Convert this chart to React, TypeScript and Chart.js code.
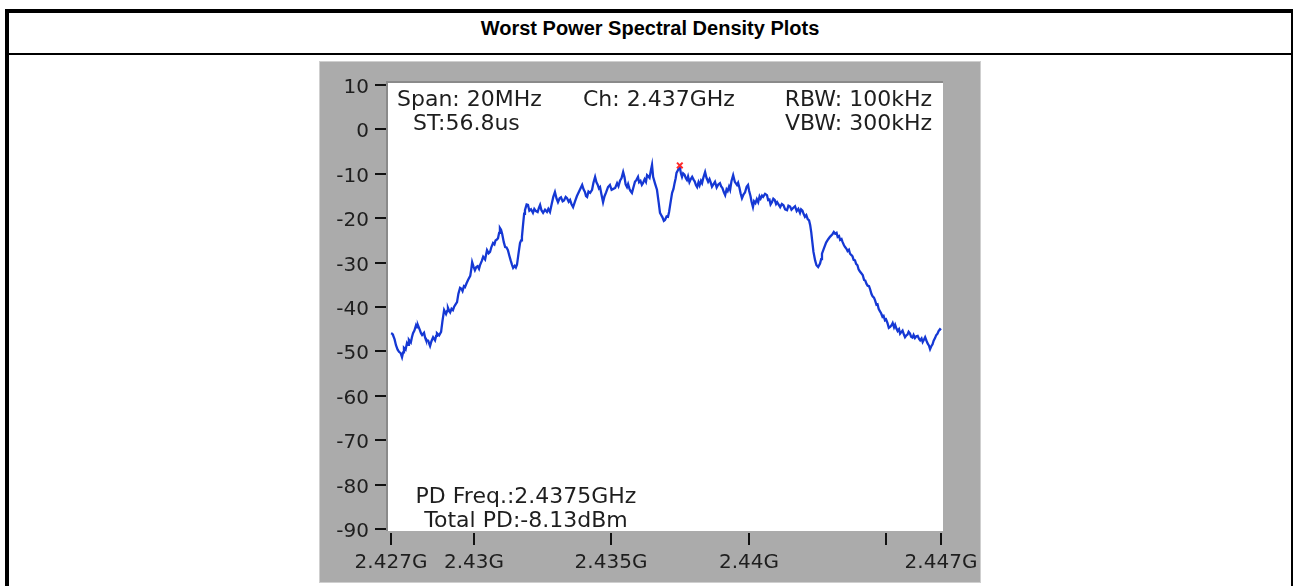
import React, { useEffect, useRef } from "react";
import { Chart, registerables } from "chart.js";

Chart.register(...registerables);

const titleText = "Worst Power Spectral Density Plots";

// Lower-left skirt and rising edge (MHz / dBm)
const leftFreqMHz = [
  2427.0, 2427.04, 2427.07, 2427.13, 2427.18, 2427.24, 2427.29, 2427.35, 2427.4, 2427.44,
  2427.47, 2427.53, 2427.58, 2427.62, 2427.65, 2427.72, 2427.76, 2427.8, 2427.85, 2427.91,
  2427.95, 2427.98, 2428.05, 2428.09, 2428.13, 2428.2, 2428.24, 2428.27, 2428.35, 2428.42,
  2428.47, 2428.53, 2428.6, 2428.64, 2428.67, 2428.75, 2428.82, 2428.87, 2428.93, 2429.0,
  2429.04, 2429.07, 2429.11, 2429.15, 2429.2, 2429.25, 2429.29, 2429.33, 2429.4, 2429.45,
  2429.51, 2429.56, 2429.6, 2429.65, 2429.69, 2429.75, 2429.8, 2429.88, 2429.92, 2429.95,
  2430.0, 2430.05, 2430.1, 2430.15, 2430.2, 2430.24, 2430.3, 2430.35, 2430.42, 2430.49,
  2430.55, 2430.6, 2430.65, 2430.71, 2430.76, 2430.8, 2430.85, 2430.89, 2430.93, 2430.96,
  2431.0, 2431.04, 2431.1, 2431.15, 2431.2, 2431.25, 2431.3, 2431.35, 2431.4, 2431.44,
  2431.5, 2431.54, 2431.58, 2431.63, 2431.69, 2431.73, 2431.76, 2431.8, 2431.84,
];
const leftPsdDbm = [
  -45.9, -46.0, -46.3, -47.3, -48.6, -49.6, -50.1, -50.4, -51.3, -50.2,
  -49.2, -49.6, -48.1, -48.5, -47.4, -48.0, -46.8, -45.9, -45.3, -44.1,
  -44.6, -44.1, -45.2, -45.9, -46.3, -45.8, -46.9, -47.4, -47.6, -48.8,
  -47.7, -46.8, -47.5, -46.5, -45.9, -46.4, -45.6, -43.2, -40.7, -41.6,
  -40.9, -40.2, -40.8, -41.2, -40.4, -40.7, -40.0, -39.6, -38.9, -37.0,
  -35.7, -35.9, -36.4, -35.3, -35.5, -34.6, -33.9, -33.0, -31.4, -29.9,
  -30.9, -31.7, -31.0, -30.8, -31.4, -30.5, -29.6, -28.7, -29.3, -27.2,
  -27.9, -27.6, -26.5, -25.6, -25.9, -25.0, -24.8, -24.5, -23.3, -22.2,
  -22.6, -23.5, -25.4, -26.5, -26.6, -27.2, -28.4, -29.5, -30.5, -31.2,
  -30.7, -31.1, -30.5, -28.2, -25.6, -25.0, -24.2, -21.5, -19.0,
];

// Top of the spectrum
const topFreqMHz = [
  2431.87, 2431.93, 2431.98, 2432.03, 2432.09, 2432.16, 2432.21, 2432.27, 2432.33, 2432.38,
  2432.42, 2432.47, 2432.53, 2432.6, 2432.67, 2432.72, 2432.78, 2432.85, 2432.9, 2432.96,
  2433.02, 2433.07, 2433.13, 2433.18, 2433.24, 2433.29, 2433.35, 2433.4, 2433.46, 2433.51,
  2433.56, 2433.62, 2433.69, 2433.76, 2433.85, 2433.95, 2434.0, 2434.05, 2434.09, 2434.13,
  2434.18, 2434.24, 2434.31, 2434.36, 2434.42, 2434.47, 2434.51, 2434.56, 2434.6, 2434.65,
  2434.71, 2434.76, 2434.82, 2434.89, 2434.96, 2435.02, 2435.08, 2435.15, 2435.22, 2435.27,
  2435.33, 2435.38, 2435.44, 2435.49, 2435.53, 2435.58, 2435.62, 2435.67, 2435.71, 2435.76,
  2435.82, 2435.87, 2435.93, 2435.98, 2436.02, 2436.07, 2436.12, 2436.16, 2436.22, 2436.27,
  2436.31, 2436.36, 2436.4, 2436.45, 2436.49, 2436.53, 2436.6, 2436.67, 2436.73, 2436.78,
  2436.84, 2436.87, 2436.92, 2436.96, 2437.02, 2437.07, 2437.11, 2437.15, 2437.22, 2437.27,
  2437.31, 2437.35, 2437.38, 2437.44, 2437.5, 2437.54, 2437.58, 2437.62, 2437.67, 2437.72,
  2437.76, 2437.8, 2437.85, 2437.9, 2437.95, 2438.0, 2438.04, 2438.09, 2438.13, 2438.18,
  2438.22, 2438.27, 2438.31, 2438.36, 2438.42, 2438.47, 2438.53, 2438.58, 2438.62, 2438.67,
  2438.71, 2438.78, 2438.84, 2438.9, 2438.96, 2439.0, 2439.05, 2439.1, 2439.15, 2439.2,
  2439.24, 2439.29, 2439.33, 2439.38, 2439.44, 2439.5, 2439.58, 2439.62, 2439.67, 2439.71,
  2439.76, 2439.82, 2439.87, 2439.93, 2439.98, 2440.02, 2440.07, 2440.11, 2440.16, 2440.2,
  2440.25, 2440.3, 2440.35, 2440.4, 2440.44, 2440.49, 2440.53, 2440.6, 2440.67, 2440.71,
  2440.76, 2440.8, 2440.85, 2440.9, 2440.95, 2441.0, 2441.04, 2441.09, 2441.15, 2441.21,
  2441.27, 2441.33, 2441.4, 2441.45, 2441.51, 2441.56, 2441.62, 2441.69, 2441.75, 2441.81,
  2441.87, 2441.91, 2441.96, 2442.0, 2442.05, 2442.1, 2442.15, 2442.2, 2442.24,
];
const topPsdDbm = [
  -18.2, -16.9, -17.0, -18.3, -18.0, -18.8, -17.9, -18.4, -18.6, -17.6,
  -17.0, -18.2, -18.8, -18.1, -18.6, -17.9, -18.6, -16.6, -15.2, -14.1,
  -15.6, -16.4, -15.5, -15.3, -16.2, -16.0, -15.2, -15.5, -16.3, -15.9,
  -16.8, -17.5, -16.2, -15.0, -13.8, -12.5, -13.5, -14.1, -15.0, -15.2,
  -14.0, -14.3, -13.6, -12.0, -10.7, -11.9, -12.4, -13.3, -13.0, -14.6,
  -16.4, -15.1, -14.2, -13.0, -12.5, -13.6, -13.4, -13.2, -12.1, -12.8,
  -11.5, -11.0, -9.6, -10.8, -12.4, -13.0, -12.3, -13.4, -13.9, -14.3,
  -12.9, -11.8, -11.3, -10.7, -11.9, -11.6, -12.5, -12.1, -11.2, -11.8,
  -10.3, -10.6, -10.9, -9.2, -8.0, -10.7, -12.2, -13.6, -16.4, -18.8,
  -19.5, -19.8, -20.6, -20.4, -19.6, -19.7, -18.6, -17.0, -14.3, -13.4,
  -12.1, -11.0, -9.8, -9.1, -8.4, -9.9, -10.7, -9.9, -10.2, -11.0,
  -11.4, -10.6, -11.9, -11.2, -10.7, -11.3, -11.7, -12.6, -13.0, -11.9,
  -12.6, -11.6, -12.1, -10.8, -9.6, -10.9, -11.8, -11.2, -11.9, -12.9,
  -12.5, -11.8, -13.1, -12.4, -12.1, -12.8, -13.2, -14.1, -14.8, -13.5,
  -13.9, -12.9, -13.6, -11.6, -10.3, -11.8, -12.5, -12.0, -13.2, -14.4,
  -15.5, -14.6, -14.2, -12.9, -12.5, -13.8, -15.0, -16.3, -17.5, -16.2,
  -16.6, -15.7, -16.4, -15.1, -15.6, -14.9, -15.2, -14.5, -14.8, -15.9,
  -15.8, -16.9, -16.4, -15.6, -15.9, -16.8, -16.4, -16.9, -17.5, -16.8,
  -17.1, -18.0, -18.2, -17.2, -17.4, -18.1, -17.7, -17.3, -18.4, -17.9,
  -18.8, -18.0, -18.3, -19.0, -19.7, -19.3, -20.2, -20.5, -21.5,
];

// Falling edge and upper-right skirt
const rightFreqMHz = [
  2442.28, 2442.31, 2442.36, 2442.42, 2442.47, 2442.53, 2442.6, 2442.64, 2442.67, 2442.74,
  2442.82, 2442.89, 2442.96, 2443.05, 2443.1, 2443.15, 2443.2, 2443.24, 2443.29, 2443.33,
  2443.38, 2443.42, 2443.47, 2443.51, 2443.56, 2443.6, 2443.65, 2443.69, 2443.74, 2443.78,
  2443.82, 2443.87, 2443.91, 2443.96, 2444.0, 2444.05, 2444.1, 2444.15, 2444.2, 2444.24,
  2444.29, 2444.33, 2444.38, 2444.42, 2444.47, 2444.51, 2444.56, 2444.6, 2444.65, 2444.69,
  2444.73, 2444.78, 2444.82, 2444.87, 2444.91, 2444.96, 2445.0, 2445.05, 2445.1, 2445.15,
  2445.2, 2445.24, 2445.29, 2445.33, 2445.38, 2445.42, 2445.47, 2445.51, 2445.56, 2445.6,
  2445.65, 2445.69, 2445.74, 2445.78, 2445.82, 2445.87, 2445.91, 2445.96, 2446.0, 2446.05,
  2446.1, 2446.15, 2446.2, 2446.24, 2446.29, 2446.33, 2446.38, 2446.42, 2446.47, 2446.51,
  2446.56, 2446.6, 2446.64, 2446.69, 2446.73, 2446.78, 2446.82, 2446.87, 2446.91, 2446.96,
  2447.0,
];
const rightPsdDbm = [
  -23.2, -24.9, -27.6, -29.5, -30.6, -31.0, -30.2, -29.2, -28.0, -26.8,
  -25.5, -24.8, -24.2, -23.6, -23.1, -23.5, -23.3, -24.2, -24.0, -24.9,
  -24.7, -25.4, -26.1, -26.5, -26.9, -27.4, -27.1, -28.0, -28.3, -28.6,
  -29.4, -29.5, -30.3, -30.6, -31.5, -32.0, -32.4, -32.8, -33.9, -34.0,
  -34.8, -35.2, -35.3, -36.0, -37.1, -37.6, -37.9, -38.5, -39.5, -39.4,
  -40.4, -41.0, -41.4, -42.2, -42.0, -43.0, -42.8, -43.6, -44.7, -44.5,
  -44.1, -43.6, -44.6, -44.0, -44.9, -45.4, -45.0, -46.0, -45.6, -45.3,
  -46.2, -46.8, -46.4, -46.2, -45.6, -46.0, -46.7, -46.9, -46.3, -47.0,
  -46.6, -46.5, -47.2, -47.5, -47.1, -47.9, -47.3, -46.8, -47.6, -48.2,
  -48.7, -49.5, -48.9, -48.4, -47.6, -47.0, -46.4, -46.0, -45.4, -45.0,
  -45.2,
];

const freqMHz = [...leftFreqMHz, ...topFreqMHz, ...rightFreqMHz];
const psdDbm = [...leftPsdDbm, ...topPsdDbm, ...rightPsdDbm];

const markerFreq = [2437.5];
const markerPsd = [-8.13];

const yTickValues = [10, 0, -10, -20, -30, -40, -50, -60, -70, -80, -90];
const xTickValues = [2427, 2430, 2435, 2440, 2445, 2447];
const xTickLabels = ["2.427G", "2.43G", "2.435G", "2.44G", "", "2.447G"];

const topLeftLines = ["Span: 20MHz", "ST:56.8us"];
const topCenterLine = "Ch: 2.437GHz";
const topRightLines = ["RBW: 100kHz", "VBW: 300kHz"];
const bottomLines = ["PD Freq.:2.4375GHz", "Total PD:-8.13dBm"];

const TEXT = "#1e1e1e";
const FONT = '"DejaVu Sans", Verdana, sans-serif';

const labviewPlugin = {
  id: "labview",
  beforeDraw(chart: any) {
    const { ctx, chartArea: a, width, height } = chart;
    ctx.save();
    ctx.fillStyle = "#ababab";
    ctx.fillRect(0, 0, width, height);
    ctx.fillStyle = "#ffffff";
    ctx.fillRect(a.left, a.top, a.right - a.left, a.bottom - a.top);
    ctx.fillStyle = "#8a8a8a";
    ctx.fillRect(a.left - 2, a.top - 2, 2, a.bottom - a.top + 2);
    ctx.fillRect(a.left - 2, a.top - 2, a.right - a.left + 2, 2);
    ctx.restore();
  },
  afterDraw(chart: any) {
    const { ctx, chartArea: a } = chart;
    const xs = chart.scales.x;
    const ys = chart.scales.y;
    ctx.save();
    ctx.font = `20px ${FONT}`;
    ctx.textAlign = "right";
    ctx.textBaseline = "alphabetic";
    yTickValues.forEach((v) => {
      const py = Math.round(ys.getPixelForValue(v));
      ctx.fillStyle = "#111";
      ctx.fillRect(a.left - 13, py - 1, 11, 2);
      ctx.fillStyle = TEXT;
      ctx.fillText(String(v), a.left - 19, py + 7.5);
    });
    ctx.textAlign = "center";
    xTickValues.forEach((v, i) => {
      const px = Math.round(xs.getPixelForValue(v));
      ctx.fillStyle = "#111";
      ctx.fillRect(px - 1, a.bottom + 2, 2, 12);
      ctx.fillStyle = TEXT;
      if (xTickLabels[i]) ctx.fillText(xTickLabels[i], px, a.bottom + 37);
    });
    ctx.font = `22px ${FONT}`;
    ctx.fillStyle = TEXT;
    ctx.textAlign = "left";
    ctx.fillText(topLeftLines[0], a.left + 9, a.top + 23);
    ctx.fillText(topLeftLines[1], a.left + 25, a.top + 47);
    ctx.fillText(topCenterLine, a.left + 195, a.top + 23);
    ctx.textAlign = "right";
    ctx.fillText(topRightLines[0], a.right - 11, a.top + 23);
    ctx.fillText(topRightLines[1], a.right - 11, a.top + 47);
    ctx.textAlign = "center";
    ctx.fillText(bottomLines[0], a.left + 138, a.bottom - 28);
    ctx.fillText(bottomLines[1], a.left + 138, a.bottom - 4);
    ctx.restore();
  },
};

function SpectrumChart() {
  const ref = useRef<HTMLCanvasElement | null>(null);
  useEffect(() => {
    if (!ref.current) return;
    const trace = freqMHz.map((f, i) => ({ x: f, y: psdDbm[i] }));
    const marker = markerFreq.map((f, i) => ({ x: f, y: markerPsd[i] }));
    const chart = new Chart(ref.current, {
      type: "line",
      data: {
        datasets: [
          {
            data: trace,
            borderColor: "#1538d4",
            borderWidth: 2.3,
            pointRadius: 0,
            tension: 0,
            fill: false,
            order: 1,
          },
          {
            data: marker,
            showLine: false,
            pointStyle: "crossRot",
            pointRadius: 4,
            borderColor: "#ff2a2a",
            pointBorderColor: "#ff2a2a",
            borderWidth: 2,
            pointBorderWidth: 2,
            order: 0,
          },
        ],
      },
      options: {
        animation: false,
        responsive: false,
        events: [],
        layout: { padding: { left: 68, right: 37, top: 21, bottom: 51 } },
        plugins: { legend: { display: false }, tooltip: { enabled: false } },
        scales: {
          x: { type: "linear", min: 2426.89, max: 2447.07, display: false },
          y: { type: "linear", min: -90.45, max: 10.45, display: false },
        },
      },
      plugins: [labviewPlugin],
    });
    return () => chart.destroy();
  }, []);
  return <canvas ref={ref} width={660} height={520} style={{ width: 660, height: 520, display: "block" }} />;
}

export default function App() {
  return (
    <div style={{ position: "fixed", left: 0, top: 0, width: 1293, height: 586, overflow: "hidden", background: "#fff" }}>
      <div
        style={{
          position: "absolute",
          left: 5,
          top: 9,
          width: 1290,
          height: 620,
          border: "4px solid #000",
          boxSizing: "border-box",
        }}
      />
      <div style={{ position: "absolute", left: 9, top: 53, width: 1282, height: 2, background: "#000" }} />
      <div
        style={{
          position: "absolute",
          left: 9,
          width: 1282,
          top: 17,
          height: 23,
          lineHeight: "23px",
          textAlign: "center",
          fontFamily: '"Liberation Sans", Arial, sans-serif',
          fontWeight: "bold",
          fontSize: 20,
          color: "#000",
          whiteSpace: "nowrap",
        }}
      >
        {titleText}
      </div>
      <div style={{ position: "absolute", left: 319, top: 61, width: 662, height: 522, background: "#cfcfcf" }} />
      <div style={{ position: "absolute", left: 320, top: 62 }}>
        <SpectrumChart />
      </div>
    </div>
  );
}
